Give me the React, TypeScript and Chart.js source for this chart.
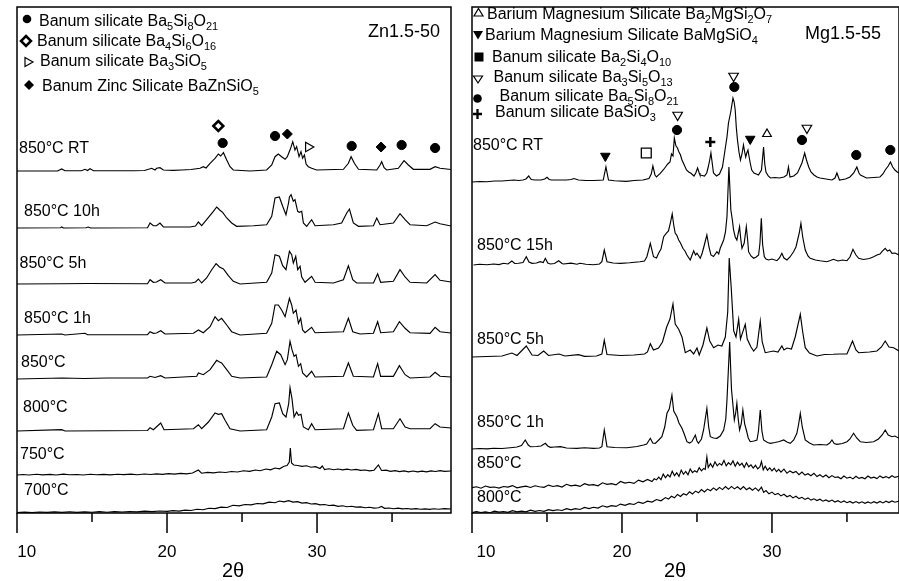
import React, { useEffect, useRef } from "react";
import { Chart, registerables } from "chart.js";

Chart.register(...registerables);

type Pt = [number, number];
type Part = [string, number];

const FONT = '"Liberation Sans", Arial, Helvetica, sans-serif';

// ---------- shared axis values ----------
const majorTicks = [10, 20, 30];
const minorTicks = [15, 25, 35];
const xAxisTitle = "2θ";
const xMin = 10;

// ---------- Left panel: Zn1.5-50 ----------
const znName = "Zn1.5-50";
const znLabels = ["850°C RT", "850°C 10h", "850°C 5h", "850°C 1h", "850°C", "800°C", "750°C", "700°C"];
const znOffsets = [342, 285, 229, 178, 134, 82, 38, 0.5];

const znRT: Pt[] = [[10,0],[12.7,0],[12.98,2],[13.2,0.3],[14.3,0.3],[14.53,1.7],[14.7,0.5],[14.87,2.3],[15.1,0.3],[17.76,0.3],[18.5,0.5],[18.98,2.7],[19.2,1],[19.31,2.7],[19.53,3.3],[19.76,1],[20.42,0.7],[20.98,1],[21.6,1.5],[22.2,2.7],[22.42,4.3],[22.6,3],[22.87,7.7],[23.2,12.7],[23.42,17],[23.58,15],[23.76,18.3],[23.98,11],[24.2,4.3],[24.42,1],[25.53,0],[26.64,1],[26.98,6],[27.2,14.3],[27.42,17],[27.64,14.3],[27.87,11.7],[28.02,14.3],[28.24,22.7],[28.38,29.3],[28.53,21],[28.64,24.3],[28.8,14.3],[28.93,19.3],[29.04,12.7],[29.16,16],[29.27,7],[29.42,4.3],[29.64,2.7],[29.98,1],[31.76,1.7],[32.09,7.7],[32.27,14.3],[32.49,7.7],[32.76,1.7],[33.98,1],[34.2,6],[34.31,9.3],[34.47,3.3],[34.64,1],[35.42,2.7],[35.8,10.3],[36.09,6],[36.42,1.7],[37.53,1.7],[37.87,4.3],[38.2,2.7],[38.93,1.5]];
const zn10h: Pt[] = [[10,0],[12.9,0.3],[12.98,1],[13.1,0],[14.6,0.3],[14.75,1],[14.9,0],[18.7,0.3],[18.87,5],[19.09,2.3],[19.3,2.3],[19.53,5],[19.76,1],[21.53,1],[21.9,2],[22.09,6],[22.31,2.3],[22.64,8.3],[23.09,16.7],[23.31,21],[23.45,19],[23.53,17.7],[23.71,15.7],[23.98,10],[24.31,5],[24.64,1.7],[25.76,2.3],[26.64,3.3],[26.98,11.7],[27.2,30],[27.49,31],[27.71,21.7],[27.93,13.3],[28.1,25],[28.16,31],[28.27,33.3],[28.42,26.7],[28.53,28.3],[28.71,16.7],[28.82,15.7],[28.98,16.7],[29.09,5],[29.31,1.7],[29.64,8.3],[29.87,2.3],[31.09,3.3],[31.64,5],[31.98,15],[32.16,19],[32.42,5],[32.76,1.7],[33.76,2.3],[33.98,10],[34.2,3.3],[35.09,5],[35.53,14.3],[35.87,8.3],[36.2,3.3],[37.31,2.3],[37.87,6],[38.2,4.3],[38.93,2]];
const zn5h: Pt[] = [[10,0],[12.9,0.3],[14.7,0.5],[18.7,0.3],[18.87,4.3],[19.09,1.7],[19.3,2],[19.58,4.3],[19.87,1],[21.64,1],[21.9,2],[22.09,5],[22.31,1],[22.64,6],[22.98,14.3],[23.27,20.3],[23.5,17],[23.76,15],[24.09,8.3],[24.42,2.7],[24.87,0],[26.64,1.7],[26.98,11],[27.2,29.3],[27.49,27.7],[27.71,18.3],[27.93,14.3],[28.16,32.7],[28.31,29.3],[28.42,21],[28.58,27.7],[28.71,14.3],[28.87,17.7],[28.98,7],[29.2,1.7],[29.64,7.7],[29.87,1.7],[31.09,1],[31.76,4.3],[32.09,18.3],[32.38,4.3],[32.64,1],[33.76,1],[34.04,10.3],[34.24,1.7],[35.09,2.7],[35.53,14.3],[35.87,7],[36.2,1.7],[37.31,1],[37.87,9.3],[38.2,3.7],[38.93,2]];
const zn1h: Pt[] = [[10,0],[12.98,1],[13.2,0],[14.53,1.7],[14.7,0.3],[18.7,0.3],[18.87,3.3],[19.09,1.7],[19.3,2],[19.58,4.3],[19.87,1],[21.76,1.7],[22.09,5],[22.42,2.3],[22.87,8.3],[23.2,18.3],[23.42,14.3],[23.64,16.7],[23.98,10],[24.31,3.3],[24.87,0],[26.64,1.7],[26.98,11.7],[27.2,30],[27.42,30],[27.64,25],[27.87,18.3],[28.16,36.7],[28.31,30],[28.42,21.7],[28.6,25],[28.76,11.7],[28.91,16.7],[29.04,5],[29.2,2.3],[29.64,7.7],[29.87,2.3],[31.76,3.3],[32.09,16.7],[32.38,3.3],[32.87,1],[33.76,1.7],[34.04,13.3],[34.24,2.3],[35.09,3.3],[35.49,13.3],[35.87,6.7],[36.2,2.3],[37.53,1.7],[37.87,7.7],[38.2,3.3],[38.93,2]];
const zn850: Pt[] = [[10,0],[11.5,0.5],[13,1],[14.5,0.5],[16,1],[18.7,1],[18.87,2.7],[19.2,1.5],[19.58,3.3],[19.87,1],[21.98,2.7],[22.09,6],[22.42,4.3],[22.87,9.3],[23.31,18.7],[23.5,17],[23.64,16],[23.98,9.3],[24.31,2.7],[24.87,1],[26.64,2],[26.98,14.3],[27.31,27.7],[27.58,24.3],[27.87,14.3],[28.02,19.3],[28.2,37.7],[28.33,29.3],[28.47,22.7],[28.6,24.3],[28.76,12.7],[28.91,15.3],[29.04,6],[29.31,2],[29.64,7.7],[29.87,2],[31.76,2.7],[32.09,16],[32.42,2.7],[33.76,2],[34.04,15.3],[34.24,2.7],[35.09,2.7],[35.49,13.3],[35.87,4.3],[36.2,1],[37.53,2],[37.87,6.7],[38.2,2.7],[38.93,2]];
const zn800: Pt[] = [[10,0],[12.98,1.3],[13.2,0],[18.7,0.5],[18.87,3.3],[19.09,1.3],[19.58,8],[19.8,1.3],[21.76,2.3],[22.09,6.3],[22.31,2.3],[22.76,9],[23.2,18],[23.42,16.7],[23.64,17.3],[23.87,10.7],[24.2,2.3],[24.87,0],[26.64,1.3],[26.98,14],[27.2,27.3],[27.49,28],[27.71,17.3],[27.93,14],[28.11,27.3],[28.2,43.3],[28.33,32.3],[28.47,14],[28.64,19],[28.76,15.7],[28.93,16.7],[29.09,4],[29.42,1.3],[29.64,7.3],[29.87,1.3],[31.76,2.3],[32.09,18],[32.38,5.7],[32.64,0.7],[33.76,1.3],[34.09,17.3],[34.31,2.3],[35.09,2.3],[35.53,12.3],[35.87,4],[36.2,2.3],[37.53,2.3],[37.87,7.3],[38.2,4],[38.93,3]];
const zn750: Pt[] = [[10,0],[10.4,0.5],[10.8,0],[11.3,0.7],[11.7,0.2],[12.2,0.6],[12.6,0],[13.1,0.8],[13.5,0.3],[14,0.5],[14.4,0],[14.9,0.7],[15.3,0.3],[15.8,0.6],[16.2,0.1],[16.7,0.7],[17.1,0.4],[17.6,0.8],[18,0.3],[18.5,1],[18.9,0.5],[19.3,1.1],[19.7,0.6],[20.1,1.4],[20.5,0.9],[20.9,1.6],[21.3,1.2],[21.7,2],[22.09,5],[22.3,1.8],[22.7,2.6],[23.1,2.1],[23.5,3],[23.9,2.5],[24.3,3.5],[24.7,3],[25.1,4.2],[25.5,3.6],[25.9,5],[26.2,4.3],[26.6,6],[26.9,5.2],[27.2,7],[27.5,6.2],[27.8,8.7],[28,9.5],[28.15,13],[28.22,27],[28.3,12],[28.45,10],[28.7,9.5],[29,8.6],[29.3,9.2],[29.6,7.8],[29.9,8.3],[30.2,6.5],[30.35,9],[30.5,5.5],[30.8,6.2],[31.1,5.3],[31.4,6],[31.7,5.2],[32,5.8],[32.3,5],[32.6,5.6],[32.9,4.6],[33.2,5],[33.5,4.2],[33.8,4.8],[34.09,10],[34.3,4.5],[34.6,4.8],[34.9,3.6],[35.2,4.3],[35.5,3.4],[35.8,4.1],[36.1,3.2],[36.4,4],[36.7,3.1],[37,3.8],[37.3,3.2],[37.6,4.1],[37.9,3.5],[38.2,4.3],[38.5,3.6],[38.93,4]];
const zn700: Pt[] = [[10,0],[10.5,0.4],[11,0],[11.5,0.5],[12,0.1],[12.5,0.6],[13,0.2],[13.5,0.7],[14,0.2],[14.5,0.6],[15,0.3],[15.5,0.8],[16,0.3],[16.5,0.9],[17,0.5],[17.5,1],[18,0.6],[18.5,1.3],[19,0.9],[19.5,1.5],[20,1.1],[20.4,1.8],[20.8,1.4],[21.2,2.4],[21.6,2],[22,3.2],[22.4,2.8],[22.8,4.2],[23.2,3.9],[23.6,5.4],[24,5],[24.4,7.2],[24.8,6.6],[25.2,8],[25.6,7.7],[26,9],[26.4,8.6],[26.8,10.3],[27.2,9.8],[27.5,11.5],[27.8,10.6],[28.1,11.8],[28.4,10.4],[28.7,10.8],[29,9.4],[29.3,9.9],[29.6,8.5],[29.9,8.8],[30.2,7.6],[30.5,8],[30.8,7],[31.1,7.3],[31.4,6.2],[31.7,6.7],[32,5.8],[32.3,6.2],[32.6,5.4],[32.9,5.6],[33.2,4.8],[33.5,5.2],[33.8,4.4],[34.1,4.7],[34.3,6],[34.5,4.2],[34.8,4.5],[35.1,3.8],[35.4,4.3],[35.7,3.7],[36,4],[36.3,3.4],[36.6,3.8],[36.9,3.3],[37.2,3.6],[37.5,3.2],[37.8,3.7],[38.1,3.3],[38.5,3.8],[38.93,3.5]];

// phase markers (2θ, stacked height)
const znHex: Pt[] = [[23.71, 370], [27.2, 377], [32.31, 367], [35.64, 368], [37.87, 365]];
const znDiamondOpen: Pt[] = [[23.42, 387]];
const znDiamond: Pt[] = [[28.02, 379], [34.27, 366]];
const znTriRight: Pt[] = [[29.42, 366]];

// ---------- Right panel: Mg1.5-55 ----------
const mgName = "Mg1.5-55";
const mgLabels = ["850°C RT", "850°C 15h", "850°C 5h", "850°C 1h", "850°C", "800°C"];
const mgOffsets = [331, 248, 156, 64, 0, 0];

const mgRT: Pt[] = [[10,0],[10.5,0.5],[11,0.3],[11.5,1],[12,1],[12.4,1.5],[12.8,2],[13.1,1.5],[13.4,2],[13.6,3],[13.78,6],[13.95,2.5],[14.2,2],[14.6,2],[14.85,3],[15,4.7],[15.15,2.5],[15.3,2],[15.8,2],[16.3,2],[16.6,2.5],[16.8,3.5],[17.1,2],[17.6,1.5],[18.1,1.5],[18.5,1.8],[18.75,2],[18.93,15],[19.1,2],[19.5,1.2],[20.3,0.7],[20.8,1.5],[21.4,2],[21.8,3.5],[21.95,8],[22.06,16],[22.2,7],[22.3,5],[22.55,8.7],[22.75,12],[22.9,15],[23.05,18],[23.2,20],[23.3,28],[23.4,26],[23.49,44],[23.6,36],[23.7,34],[23.8,30],[23.9,27],[24,22],[24.1,18.7],[24.3,12],[24.45,10],[24.6,8.7],[24.8,6],[24.92,9],[25.04,14],[25.15,9],[25.2,7],[25.35,6.5],[25.5,6],[25.65,9],[25.75,15],[25.85,22],[25.93,29],[26.05,15],[26.1,9],[26.3,6],[26.5,8],[26.7,15],[26.8,25],[26.9,35],[27,45],[27.1,59],[27.25,70],[27.4,84],[27.48,80],[27.55,72],[27.62,55],[27.7,42],[27.8,30],[27.9,22],[28,28],[28.1,37],[28.18,30],[28.25,25],[28.32,29],[28.4,32],[28.48,25],[28.55,19],[28.65,12],[28.8,9],[28.95,8],[29.1,7],[29.3,12],[29.38,25],[29.44,35],[29.52,18],[29.6,10],[29.75,6],[29.9,4],[30.2,4.5],[30.5,4],[30.8,5],[31,7],[31.1,15],[31.2,5],[31.45,6],[31.7,9],[31.85,14],[32,19],[32.18,29],[32.3,22],[32.45,15],[32.6,10],[32.8,7],[33,5],[33.2,4],[33.6,3],[34,2],[34.2,4],[34.33,9],[34.5,2],[34.9,3],[35.2,5],[35.45,9],[35.66,15],[35.8,9],[35.9,7],[36.3,4],[36.8,4.5],[37.2,5],[37.4,8],[37.55,12],[37.75,16],[37.9,20],[38.05,15],[38.2,12],[38.35,10],[38.47,9]];
const mg15h: Pt[] = [[10.1,0],[10.5,0.7],[11,0.3],[11.44,1],[11.8,0.4],[12.1,1.7],[12.4,1],[12.66,4],[12.85,1.5],[13.1,1.7],[13.4,2.5],[13.62,8.3],[13.8,3],[14,1.7],[14.3,2],[14.55,3.3],[14.75,2.5],[14.89,6.7],[15.05,2],[15.22,1],[15.5,1.5],[15.78,4.3],[16,1.5],[16.1,1],[16.6,1.8],[17,0.8],[17.2,1.7],[17.6,0.8],[18.1,0.3],[18.5,1],[18.66,3.3],[18.82,15],[19,3.3],[19.4,2],[19.9,1.7],[20.5,2.2],[21.2,3.3],[21.5,4],[21.66,8.3],[21.89,21.7],[22.1,8.3],[22.3,7],[22.44,11.7],[22.6,16],[22.78,28.3],[22.95,31.7],[23.1,34],[23.22,41.7],[23.35,51],[23.45,40],[23.55,31.7],[23.65,30],[23.78,25],[23.9,22],[24.06,16.7],[24.2,14],[24.33,10],[24.55,5],[24.65,9],[24.78,14.3],[24.9,10],[25,11.7],[25.22,6.7],[25.35,12],[25.49,20],[25.66,30],[25.8,18],[25.93,10],[26.1,8.5],[26.33,13.3],[26.45,11],[26.55,16.7],[26.78,25],[26.9,33],[27,48.3],[27.13,98],[27.26,55],[27.36,45],[27.44,35],[27.55,28],[27.66,25],[27.84,38.3],[27.92,26],[28,16.7],[28.15,22],[28.29,38.3],[28.38,25],[28.44,13.3],[28.6,9],[28.78,6.7],[28.95,8],[29.11,10],[29.2,22],[29.29,46.7],[29.38,20],[29.49,8.3],[29.6,6],[29.78,5],[30,6],[30.33,4.3],[30.5,7],[30.66,11.7],[30.8,7],[31,5],[31.2,8],[31.44,13.3],[31.6,18],[31.71,25],[31.82,32],[31.93,41.7],[32.05,28],[32.22,15],[32.4,9],[32.55,6.7],[32.9,5],[33.2,4.2],[33.66,3.3],[33.9,4.5],[34.1,5.7],[34.4,4],[34.7,5],[35,4.3],[35.2,8],[35.4,15.7],[35.6,10],[35.78,6.7],[36.1,5.5],[36.5,6.5],[36.78,8.3],[37,10],[37.2,11],[37.33,13.3],[37.55,16.7],[37.7,14],[37.85,15],[38,11.7],[38.2,12],[38.47,10]];
const mg5h: Pt[] = [[10,0],[11,0.5],[12,1],[12.66,4],[13,1.5],[13.62,11],[14,2],[14.4,1.5],[14.78,6],[15.1,1.5],[15.8,3],[16.2,1],[17.1,2.3],[17.5,0.7],[18.3,1],[18.66,3],[18.82,16.7],[19,2.5],[19.9,1.5],[20.8,2],[21.5,3],[21.7,5],[21.89,13.3],[22.1,7],[22.44,9],[22.7,15],[22.98,30],[23.2,38],[23.4,53],[23.55,33],[23.78,27.7],[24,20],[24.22,4.3],[24.55,7],[24.78,3],[25,9],[25.15,2],[25.4,12],[25.66,29],[25.85,16],[26.11,9.3],[26.4,12],[26.66,11],[26.89,20],[27.05,45],[27.15,99],[27.28,70],[27.45,26],[27.6,20],[27.78,37.7],[27.9,18],[28,22.7],[28.22,32.7],[28.35,18],[28.6,10],[28.78,6],[29,10],[29.22,36],[29.35,15],[29.55,4.3],[30.1,6],[30.4,5],[30.66,11],[30.8,7],[31,9],[31.3,8],[31.55,20],[31.89,42.7],[32.05,25],[32.22,9.3],[32.5,4],[33,1],[33.5,2.5],[34.1,2.7],[34.5,3],[35,3],[35.37,16],[35.6,7],[35.78,4.3],[36.5,5],[37,6],[37.3,10],[37.55,16],[37.8,10],[38.11,9.3],[38.47,6]];
const mg1h: Pt[] = [[10,0],[10.5,0.5],[11,0.2],[11.44,0.7],[12,0.5],[12.55,1.3],[13,2],[13.3,3.5],[13.55,9],[13.75,4],[13.9,2.3],[14.3,2.5],[14.6,3],[14.89,5.7],[15.05,3],[15.22,1.7],[15.5,2],[15.9,2.3],[16.3,1],[17,0.7],[17.5,1.2],[18.1,0.7],[18.5,1],[18.66,2.3],[18.82,19],[19,2.3],[19.5,1.5],[20.33,1.3],[21,2.5],[21.44,4],[21.65,5],[21.89,10.7],[22.05,6],[22.22,5.7],[22.45,9],[22.66,12.3],[22.85,22],[23,35.7],[23.15,40],[23.33,54],[23.45,38],[23.66,32.3],[23.8,26],[24,20.7],[24.15,15],[24.33,7.3],[24.5,6],[24.66,7.3],[24.89,14],[25,8],[25.1,5.7],[25.3,10],[25.44,19],[25.66,40.7],[25.78,22],[25.89,12.3],[26.1,11],[26.33,10.7],[26.55,13],[26.78,19],[26.92,30],[27,49],[27.18,107],[27.3,60],[27.49,29],[27.58,36],[27.66,45.7],[27.75,30],[27.84,19],[27.95,25],[28.06,39],[28.18,25],[28.29,19],[28.42,11],[28.55,7.3],[28.8,8],[29,9],[29.1,18],[29.22,39],[29.33,18],[29.44,9],[29.7,6.5],[29.9,5.7],[30.2,6.5],[30.5,7.5],[30.78,9],[31,7],[31.22,5.7],[31.45,9],[31.66,15.7],[31.78,25],[31.89,35.7],[32.02,22],[32.22,9],[32.5,6],[32.78,4],[33.2,4.5],[33.66,4],[33.85,6],[34,9],[34.15,5.5],[34.33,4.7],[34.7,5.5],[35,7.3],[35.2,10],[35.44,15.7],[35.65,11],[35.89,7.3],[36.3,6.5],[36.78,7.3],[37.1,10],[37.35,14],[37.55,19],[37.75,14],[38,12.3],[38.2,13],[38.47,10.7]];
const mg850: Pt[] = [[10,25.3],[10.3,26.2],[10.6,24.8],[10.9,27],[11.2,25.6],[11.5,26],[11.8,24.9],[12.1,26.5],[12.4,25.9],[12.7,27.4],[13,25.2],[13.3,26.1],[13.6,26.9],[13.9,25.5],[14.2,27.2],[14.5,26.3],[14.8,25.7],[15.1,27.9],[15.4,26.5],[15.7,27.4],[16,26],[16.3,28.7],[16.6,27.1],[16.9,27.8],[17.2,26.6],[17.5,29.3],[17.8,27.9],[18.1,28.4],[18.4,27.2],[18.7,30.2],[19,28.6],[19.3,29.4],[19.6,28.1],[19.9,31.5],[20.2,29.9],[20.5,30.7],[20.8,29.6],[21.1,32.9],[21.4,31.2],[21.7,33.6],[22,31.4],[22.15,34.2],[22.3,33.1],[22.45,35.8],[22.6,33.4],[22.75,38.9],[22.9,35.2],[23.05,38.4],[23.2,36.1],[23.35,41.8],[23.5,37.3],[23.65,40.2],[23.8,36.6],[23.95,42.9],[24.1,38.7],[24.25,41.6],[24.4,38.2],[24.55,44],[24.7,40.4],[24.85,42.3],[25,40.8],[25.15,45.3],[25.3,42.2],[25.45,44.6],[25.55,43.5],[25.66,56],[25.75,45.5],[25.9,49.3],[26.05,45.8],[26.2,51.2],[26.35,47.2],[26.5,49.6],[26.65,47.9],[26.8,52.6],[26.95,47.1],[27.1,50.4],[27.25,48.2],[27.4,52.1],[27.55,46.8],[27.7,50.8],[27.85,47.6],[28,49.7],[28.15,45.6],[28.3,50.3],[28.45,46.2],[28.6,48.1],[28.75,44.9],[28.9,47.7],[29.05,44.1],[29.2,46.3],[29.3,51.5],[29.42,43.2],[29.55,46.9],[29.7,42.8],[29.85,45.1],[30,42.2],[30.15,44.7],[30.3,41.3],[30.45,43.6],[30.6,40.9],[30.8,43.8],[31,39.7],[31.2,42.1],[31.4,40.2],[31.6,41.6],[31.8,38.4],[32,40.9],[32.2,37.9],[32.4,39.3],[32.6,37.2],[32.8,39.6],[33,36.4],[33.2,38.2],[33.4,35.9],[33.6,37.9],[33.8,35.2],[34,37.4],[34.2,35.5],[34.4,36.1],[34.6,34.3],[34.8,36.9],[35,34.8],[35.2,35.9],[35.4,34.1],[35.6,36.7],[35.8,34.6],[36,35.6],[36.2,34.2],[36.4,36.9],[36.6,34.9],[36.8,35.8],[37,34.4],[37.2,37.1],[37.4,35.2],[37.6,36.4],[37.8,35],[38,37.3],[38.2,35.6],[38.47,36.8]];
const mg800: Pt[] = [[10,0.3],[10.3,1.4],[10.6,0.5],[10.9,1.1],[11.2,0.2],[11.5,1.8],[11.8,0.9],[12.1,1.5],[12.4,0.6],[12.7,2.3],[13,1.2],[13.3,1.9],[13.6,1.1],[13.9,2.8],[14.2,1.7],[14.5,2.5],[14.8,1.6],[15.1,3.4],[15.4,2.4],[15.7,3.2],[16,2.5],[16.3,4.4],[16.6,3.1],[16.9,4.3],[17.2,3.5],[17.5,5.6],[17.8,4.4],[18.1,5.7],[18.4,4.9],[18.7,7.2],[19,5.9],[19.3,7.4],[19.6,6.6],[19.9,8.9],[20.2,7.6],[20.5,9.4],[20.8,8.5],[21.1,10.9],[21.4,9.6],[21.7,11.8],[22,10.9],[22.3,13.5],[22.6,12.2],[22.9,15.4],[23.1,13.9],[23.3,16.7],[23.5,15.2],[23.7,18.6],[23.9,16.6],[24.1,19.3],[24.3,17.9],[24.5,21.2],[24.7,19.1],[24.9,21.9],[25.1,20.2],[25.3,23.4],[25.5,21.1],[25.7,23.9],[25.9,22.3],[26.1,25.1],[26.3,22.8],[26.5,25.6],[26.7,23.4],[26.9,26.4],[27.1,23.7],[27.3,26.6],[27.5,24.1],[27.7,26.2],[27.9,23.6],[28.1,26.4],[28.3,23.3],[28.5,25.3],[28.7,22.8],[28.9,25.1],[29.1,22.2],[29.3,25.8],[29.45,20.6],[29.6,22.4],[29.8,19.2],[30,20.9],[30.2,18.3],[30.4,19.6],[30.6,17.1],[30.8,18.7],[31,16.2],[31.2,17.6],[31.4,15.1],[31.6,16.8],[31.8,14.4],[32,15.7],[32.2,13.6],[32.4,15.1],[32.6,12.9],[32.8,14.2],[33,12.4],[33.2,13.8],[33.4,11.8],[33.6,13.1],[33.8,11.5],[34,12.9],[34.2,11],[34.4,12.3],[34.6,10.6],[34.8,12],[35,10.3],[35.2,11.6],[35.4,10],[35.6,11.4],[35.8,9.9],[36,11.2],[36.2,9.7],[36.4,11.1],[36.6,9.8],[36.8,11.3],[37,10],[37.2,11.5],[37.4,10.1],[37.6,11.8],[37.8,10.4],[38,12.1],[38.2,10.8],[38.47,11.9]];

const mgHex: Pt[] = [[23.67, 383], [27.49, 426], [32.0, 373], [35.62, 358], [37.89, 363]];
const mgTriDown: Pt[] = [[18.89, 357], [28.55, 374]];
const mgTriDownOpen: Pt[] = [[23.71, 398], [27.44, 437], [32.33, 385]];
const mgSquareOpen: Pt[] = [[21.62, 360]];
const mgPlus: Pt[] = [[25.89, 371]];
const mgTriUpOpen: Pt[] = [[29.67, 379]];

// ---------- legends ----------
const znLegendMarkers = ["hex", "diamondOpen", "triRight", "diamond"];
const znLegendText: Part[][] = [
  [["Banum silicate Ba", 0], ["5", 1], ["Si", 0], ["8", 1], ["O", 0], ["21", 1]],
  [["Banum silicate Ba", 0], ["4", 1], ["Si", 0], ["6", 1], ["O", 0], ["16", 1]],
  [["Banum silicate Ba", 0], ["3", 1], ["SiO", 0], ["5", 1]],
  [["Banum Zinc Silicate BaZnSiO", 0], ["5", 1]],
];
const mgLegendMarkers = ["triUpOpen", "triDown", "square", "triDownOpen", "hex", "plus"];
const mgLegendText: Part[][] = [
  [["Barium Magnesium Silicate Ba", 0], ["2", 1], ["MgSi", 0], ["2", 1], ["O", 0], ["7", 1]],
  [["Barium Magnesium Silicate BaMgSiO", 0], ["4", 1]],
  [["Banum silicate Ba", 0], ["2", 1], ["Si", 0], ["4", 1], ["O", 0], ["10", 1]],
  [["Banum silicate Ba", 0], ["3", 1], ["Si", 0], ["5", 1], ["O", 0], ["13", 1]],
  [["Banum silicate Ba", 0], ["5", 1], ["Si", 0], ["8", 1], ["O", 0], ["21", 1]],
  [["Banum silicate BaSiO", 0], ["3", 1]],
];

// ---------- marker styles ----------
const markerStyles: Record<string, any> = {
  hex: { ps: "circle", r: 4.6, fill: "#000", bw: 1, rot: 0 },
  diamondOpen: { ps: "rectRot", r: 5, fill: "#fff", bw: 2.5, rot: 0 },
  diamond: { ps: "rectRot", r: 5, fill: "#000", bw: 1, rot: 0 },
  triRight: { ps: "triangle", r: 5.5, fill: "#fff", bw: 1.2, rot: 90 },
  triUpOpen: { ps: "triangle", r: 5, fill: "#fff", bw: 1.2, rot: 0 },
  triDown: { ps: "triangle", r: 5.5, fill: "#000", bw: 1, rot: 180 },
  triDownOpen: { ps: "triangle", r: 5.5, fill: "#fff", bw: 1.2, rot: 180 },
  squareOpen: { ps: "rect", r: 7, fill: "#fff", bw: 1.3, rot: 0 },
  plus: { ps: "cross", r: 5, fill: "#000", bw: 2.5, rot: 0 },
};

function drawLegendMarker(ctx: CanvasRenderingContext2D, kind: string, x: number, y: number) {
  ctx.save();
  ctx.fillStyle = "#000";
  ctx.strokeStyle = "#000";
  ctx.lineWidth = 1.2;
  ctx.beginPath();
  if (kind === "hex") {
    ctx.arc(x, y, 4.3, 0, Math.PI * 2);
    ctx.fill();
  } else if (kind === "diamond" || kind === "diamondOpen") {
    ctx.moveTo(x, y - 5); ctx.lineTo(x + 5, y); ctx.lineTo(x, y + 5); ctx.lineTo(x - 5, y); ctx.closePath();
    if (kind === "diamond") ctx.fill();
    else { ctx.fillStyle = "#fff"; ctx.fill(); ctx.lineWidth = 2.5; ctx.stroke(); }
  } else if (kind === "triRight") {
    ctx.moveTo(x - 3.5, y - 4.5); ctx.lineTo(x + 4.5, y); ctx.lineTo(x - 3.5, y + 4.5); ctx.closePath();
    ctx.stroke();
  } else if (kind === "triUpOpen") {
    ctx.moveTo(x, y - 4.5); ctx.lineTo(x + 4.5, y + 3); ctx.lineTo(x - 4.5, y + 3); ctx.closePath();
    ctx.stroke();
  } else if (kind === "triDownOpen") {
    ctx.moveTo(x - 4.5, y - 3); ctx.lineTo(x + 4.5, y - 3); ctx.lineTo(x, y + 4); ctx.closePath();
    ctx.stroke();
  } else if (kind === "triDown") {
    ctx.moveTo(x - 5, y - 4); ctx.lineTo(x + 5, y - 4); ctx.lineTo(x, y + 4.5); ctx.closePath();
    ctx.fill();
  } else if (kind === "square") {
    ctx.rect(x - 4.5, y - 4.5, 9, 9);
    ctx.fill();
  } else if (kind === "plus") {
    ctx.lineWidth = 2.3;
    ctx.moveTo(x - 4.5, y); ctx.lineTo(x + 4.5, y); ctx.moveTo(x, y - 5); ctx.lineTo(x, y + 5);
    ctx.stroke();
  }
  ctx.restore();
}

function drawRich(ctx: CanvasRenderingContext2D, parts: Part[], x: number, y: number, size: number) {
  let cx = x;
  for (const [t, sub] of parts) {
    ctx.font = `${sub ? Math.round(size * 0.66) : size}px ${FONT}`;
    ctx.fillText(t, cx, sub ? y + size * 0.28 : y);
    cx += ctx.measureText(t).width;
  }
}

interface PanelCfg {
  canvasLeft: number;
  width: number;
  padding: { left: number; right: number; top: number; bottom: number };
  xMax: number;
  traces: Pt[][];
  offsets: number[];
  labels: string[];
  labelPos: Pt[];
  name: string;
  namePos: Pt;
  legendMarkers: string[];
  legendText: Part[][];
  legendMarkerPos: Pt[];
  legendTextPos: Pt[];
  markers: [Pt[], string][];
  firstLabelShift: number;
  titleX: number;
}

const leftPanel: PanelCfg = {
  canvasLeft: 0,
  width: 460,
  padding: { left: 17, right: 9, top: 7, bottom: 68 },
  xMax: 38.93,
  traces: [znRT, zn10h, zn5h, zn1h, zn850, zn800, zn750, zn700],
  offsets: znOffsets,
  labels: znLabels,
  labelPos: [[19, 153], [24, 216], [19.5, 268], [24, 323], [21, 367], [23, 412], [20, 459], [24, 495]],
  name: znName,
  namePos: [368, 37],
  legendMarkers: znLegendMarkers,
  legendText: znLegendText,
  legendMarkerPos: [[27, 19], [26, 41], [28.5, 62], [29, 85]],
  legendTextPos: [[39, 26], [37, 45.5], [40, 66], [42, 90.5]],
  markers: [[znHex, "hex"], [znDiamondOpen, "diamondOpen"], [znDiamond, "diamond"], [znTriRight, "triRight"]],
  firstLabelShift: 9.7,
  titleX: 233,
};

const rightPanel: PanelCfg = {
  canvasLeft: 460,
  width: 439,
  padding: { left: 12, right: 0, top: 7, bottom: 68 },
  xMax: 38.47,
  traces: [mgRT, mg15h, mg5h, mg1h, mg850, mg800],
  offsets: mgOffsets,
  labels: mgLabels,
  labelPos: [[473, 150], [477, 249.5], [477, 343.5], [477, 427], [477, 467.5], [477, 502]],
  name: mgName,
  namePos: [805, 38.5],
  legendMarkers: mgLegendMarkers,
  legendText: mgLegendText,
  legendMarkerPos: [[478.5, 13], [478, 35], [479, 57], [478, 79], [477.5, 98.5], [477.5, 114]],
  legendTextPos: [[487, 19], [485, 39.5], [492, 61.5], [493.5, 81.5], [499.5, 100.5], [495, 117]],
  markers: [[mgHex, "hex"], [mgTriDown, "triDown"], [mgTriDownOpen, "triDownOpen"], [mgSquareOpen, "squareOpen"], [mgPlus, "plus"], [mgTriUpOpen, "triUpOpen"]],
  firstLabelShift: 14,
  titleX: 675,
};

function makeDecor(p: PanelCfg) {
  const L = p.canvasLeft;
  return {
    id: "panelDecor",
    beforeDraw(chart: any) {
      const ctx = chart.ctx;
      ctx.save();
      ctx.fillStyle = "#fff";
      ctx.fillRect(0, 0, chart.width, chart.height);
      ctx.restore();
    },
    afterDraw(chart: any) {
      const { ctx, chartArea: a } = chart;
      const xs = chart.scales.x;
      ctx.save();
      ctx.strokeStyle = "#000";
      ctx.fillStyle = "#000";
      ctx.lineWidth = 1.5;
      ctx.strokeRect(a.left, a.top, a.right - a.left, a.bottom - a.top);
      ctx.beginPath();
      for (const v of majorTicks) {
        const px = xs.getPixelForValue(v);
        ctx.moveTo(px, a.bottom);
        ctx.lineTo(px, a.bottom + 20);
      }
      for (const v of minorTicks) {
        const px = xs.getPixelForValue(v);
        ctx.moveTo(px, a.bottom);
        ctx.lineTo(px, a.bottom + 9);
      }
      ctx.stroke();

      ctx.textBaseline = "alphabetic";
      ctx.textAlign = "center";
      ctx.font = `17px ${FONT}`;
      majorTicks.forEach((v, i) => {
        const px = xs.getPixelForValue(v) + (i === 0 ? p.firstLabelShift : 0);
        ctx.fillText(String(v), px, 557);
      });
      ctx.font = `20px ${FONT}`;
      ctx.fillText(xAxisTitle, p.titleX - L, 577);

      ctx.textAlign = "left";
      ctx.font = `16px ${FONT}`;
      p.labels.forEach((t, i) => ctx.fillText(t, p.labelPos[i][0] - L, p.labelPos[i][1]));

      ctx.font = `18px ${FONT}`;
      ctx.fillText(p.name, p.namePos[0] - L, p.namePos[1]);

      p.legendText.forEach((parts, i) => {
        drawLegendMarker(ctx, p.legendMarkers[i], p.legendMarkerPos[i][0] - L, p.legendMarkerPos[i][1]);
        drawRich(ctx, parts, p.legendTextPos[i][0] - L, p.legendTextPos[i][1], 16);
      });
      ctx.restore();
    },
  };
}

function buildConfig(p: PanelCfg): any {
  const traceSets = p.traces.map((t, i) => ({
    type: "line",
    data: t.map(([x, y]) => ({ x, y: y + p.offsets[i] })),
    borderColor: "#000",
    borderWidth: 1.15,
    pointRadius: 0,
    tension: 0,
    fill: false,
  }));
  const markerSets = p.markers.map(([pts, kind]) => {
    const s = markerStyles[kind];
    return {
      type: "line",
      showLine: false,
      data: pts.map(([x, y]) => ({ x, y })),
      pointStyle: s.ps,
      pointRadius: s.r,
      pointRotation: s.rot,
      pointBackgroundColor: s.fill,
      pointBorderColor: "#000",
      pointBorderWidth: s.bw,
      borderColor: "#000",
      backgroundColor: s.fill,
    };
  });
  return {
    type: "line",
    data: { datasets: [...traceSets, ...markerSets] },
    options: {
      responsive: false,
      animation: false,
      events: [],
      layout: { padding: p.padding, autoPadding: false },
      scales: {
        x: { type: "linear", min: xMin, max: p.xMax, display: false },
        y: { type: "linear", min: 0, max: 506, display: false },
      },
      plugins: { legend: { display: false }, tooltip: { enabled: false } },
    },
    plugins: [makeDecor(p)],
  };
}

function Panel({ cfg }: { cfg: PanelCfg }) {
  const ref = useRef<HTMLCanvasElement>(null);
  useEffect(() => {
    const chart = new Chart(ref.current as HTMLCanvasElement, buildConfig(cfg));
    return () => chart.destroy();
  }, [cfg]);
  return (
    <canvas
      ref={ref}
      width={cfg.width}
      height={581}
      style={{ position: "absolute", left: cfg.canvasLeft, top: 0, width: cfg.width, height: 581 }}
    />
  );
}

export default function App() {
  return (
    <div style={{ position: "fixed", left: 0, top: 0, width: 899, height: 581, background: "#fff", overflow: "hidden" }}>
      <Panel cfg={leftPanel} />
      <Panel cfg={rightPanel} />
    </div>
  );
}
